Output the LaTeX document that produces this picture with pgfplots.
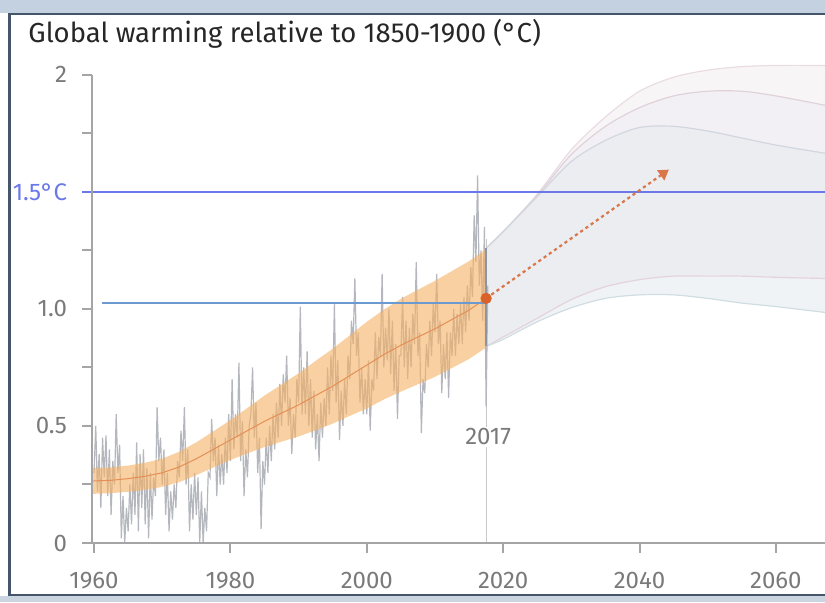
\documentclass[border=0pt]{standalone}
\usepackage{pgfplots}
\pgfplotsset{compat=1.18}
\usepgfplotslibrary{fillbetween}
\usetikzlibrary{arrows.meta}
\usepackage{fontspec}
\setmainfont{Fira Sans}
\definecolor{titlec}{HTML}{262626}
\definecolor{labc}{HTML}{7A7A7A}
\definecolor{tickc}{HTML}{A5A5A5}
\definecolor{bluel}{HTML}{6A78EA}
\definecolor{steelc}{HTML}{6A9AD0}
\definecolor{datag}{HTML}{B4B7BD}
\definecolor{orab}{HTML}{F5B163}
\definecolor{orac}{HTML}{E58F55}
\definecolor{dotc}{HTML}{D9622B}
\definecolor{arrc}{HTML}{D9764A}
\definecolor{outc}{HTML}{EADCE3}
\definecolor{midc}{HTML}{E0D2DB}
\definecolor{innc}{HTML}{D2D6DF}
\definecolor{lpc}{HTML}{E4D3DC}
\definecolor{lbc}{HTML}{D0DDE3}
\definecolor{fa}{HTML}{F8F5F7}
\definecolor{fb}{HTML}{F2F0F4}
\definecolor{fc}{HTML}{ECEDF1}
\definecolor{fd}{HTML}{F0F3F5}
\definecolor{edgec}{HTML}{8E95A2}
\definecolor{vlinec}{HTML}{C9C9C9}
\definecolor{topband}{HTML}{C3D1E1}
\definecolor{framec}{HTML}{46566A}
\definecolor{botband}{HTML}{CBD5E0}
\begin{document}
\begin{tikzpicture}
\begin{axis}[
  scale only axis, width=366.5pt, height=257.5pt,
  xmin=1959.7, xmax=2067.2, ymin=0, ymax=2.2,
  clip=false,
  axis line style={draw=none},
  xtick={1960,1980,2000,2020,2040,2060},
  xticklabels={1960,1980,2000,2020,2040,2060},
  ytick={0,0.25,0.5,0.75,1,1.25,1.5,1.75,2},
  yticklabels={0,,0.5,,1.0,,\textcolor{bluel}{1.5°C},,2},
  xtick pos=left, ytick pos=left,
  tick align=outside, major tick length=5pt,
  tick style={draw=tickc, line width=1pt},
  ticklabel style={font=\fontsize{12}{14}\selectfont, text=labc},
  xticklabel style={yshift=-6pt},
  yticklabel style={xshift=-4pt},
]
% projection envelopes
\addplot[name path=outer, draw=outc, line width=0.6pt, smooth] coordinates {
(2017.5,1.26) (2020,1.33) (2025,1.49) (2030,1.68) (2035,1.82) (2040,1.93) (2045,1.99) (2050,2.02) (2055,2.035) (2060,2.04) (2067.2,2.04)};
\addplot[name path=middle, draw=midc, line width=0.6pt, smooth] coordinates {
(2017.5,1.26) (2020,1.33) (2025,1.485) (2030,1.66) (2035,1.78) (2040,1.86) (2045,1.91) (2050,1.93) (2055,1.93) (2060,1.91) (2067.2,1.87)};
\addplot[name path=inner, draw=innc, line width=0.6pt, smooth] coordinates {
(2017.5,1.26) (2020,1.33) (2025,1.48) (2030,1.63) (2035,1.72) (2040,1.775) (2045,1.78) (2050,1.76) (2055,1.73) (2060,1.70) (2067.2,1.665)};
\addplot[name path=lowp, draw=lpc, line width=0.6pt, smooth] coordinates {
(2017.5,0.84) (2020,0.88) (2025,0.96) (2030,1.04) (2035,1.095) (2040,1.125) (2045,1.14) (2050,1.14) (2055,1.14) (2060,1.135) (2067.2,1.13)};
\addplot[name path=lowb, draw=lbc, line width=0.6pt, smooth] coordinates {
(2017.5,0.84) (2020,0.87) (2025,0.945) (2030,1.005) (2035,1.045) (2040,1.06) (2045,1.06) (2050,1.045) (2055,1.025) (2060,1.01) (2067.2,0.985)};
\addplot[fill=fa, draw=none] fill between[of=outer and middle];
\addplot[fill=fb, draw=none] fill between[of=middle and inner];
\addplot[fill=fc, draw=none] fill between[of=inner and lowp];
\addplot[fill=fd, draw=none] fill between[of=lowp and lowb];
% vertical 2017 line
\addplot[draw=vlinec, line width=0.6pt] coordinates {(2017.5,0) (2017.5,1.3)};
% observed temperature
\addplot[draw=datag, line width=0.6pt] coordinates {
(1960,0.30) (1960.25,0.50) (1960.5,0.22) (1960.75,0.38)
(1961,0.15) (1961.25,0.45) (1961.5,0.28) (1961.75,0.46)
(1962,0.20) (1962.25,0.40) (1962.5,0.12) (1962.75,0.35)
(1963,0.25) (1963.25,0.55) (1963.5,0.30) (1963.75,0.42)
(1964,0.02) (1964.25,0.20) (1964.5,0.00) (1964.75,0.15)
(1965,0.05) (1965.25,0.25) (1965.5,0.08) (1965.75,0.30)
(1966,0.12) (1966.25,0.43) (1966.5,0.05) (1966.75,0.38)
(1967,0.15) (1967.25,0.40) (1967.5,0.08) (1967.75,0.32)
(1968,0.02) (1968.25,0.30) (1968.5,0.10) (1968.75,0.28)
(1969,0.20) (1969.25,0.58) (1969.5,0.35) (1969.75,0.45)
(1970,0.25) (1970.25,0.40) (1970.5,0.12) (1970.75,0.30)
(1971,0.05) (1971.25,0.22) (1971.5,0.10) (1971.75,0.25)
(1972,0.15) (1972.25,0.35) (1972.5,0.28) (1972.75,0.48)
(1973,0.35) (1973.25,0.58) (1973.5,0.25) (1973.75,0.40)
(1974,0.05) (1974.25,0.25) (1974.5,0.10) (1974.75,0.30)
(1975,0.12) (1975.25,0.28) (1975.5,0.00) (1975.75,0.22)
(1976,0.00) (1976.25,0.15) (1976.5,0.05) (1976.75,0.30)
(1977,0.28) (1977.25,0.53) (1977.5,0.35) (1977.75,0.45)
(1978,0.20) (1978.25,0.42) (1978.5,0.25) (1978.75,0.38)
(1979,0.25) (1979.25,0.45) (1979.5,0.30) (1979.75,0.55)
(1980,0.35) (1980.25,0.70) (1980.5,0.40) (1980.75,0.55)
(1981,0.45) (1981.25,0.77) (1981.5,0.35) (1981.75,0.52)
(1982,0.20) (1982.25,0.40) (1982.5,0.28) (1982.75,0.50)
(1983,0.55) (1983.25,0.75) (1983.5,0.45) (1983.75,0.60)
(1984,0.30) (1984.25,0.45) (1984.5,0.06) (1984.75,0.35)
(1985,0.25) (1985.25,0.45) (1985.5,0.30) (1985.75,0.50)
(1986,0.35) (1986.25,0.55) (1986.5,0.40) (1986.75,0.60)
(1987,0.45) (1987.25,0.68) (1987.5,0.50) (1987.75,0.72)
(1988,0.60) (1988.25,0.80) (1988.5,0.50) (1988.75,0.62)
(1989,0.38) (1989.25,0.55) (1989.5,0.45) (1989.75,0.70)
(1990,0.60) (1990.25,1.01) (1990.5,0.55) (1990.75,0.75)
(1991,0.55) (1991.25,0.82) (1991.5,0.50) (1991.75,0.70)
(1992,0.45) (1992.25,0.65) (1992.5,0.40) (1992.75,0.55)
(1993,0.35) (1993.25,0.60) (1993.5,0.45) (1993.75,0.62)
(1994,0.50) (1994.25,0.75) (1994.5,0.55) (1994.75,0.80)
(1995,0.65) (1995.25,1.02) (1995.5,0.60) (1995.75,0.78)
(1996,0.44) (1996.25,0.65) (1996.5,0.50) (1996.75,0.70)
(1997,0.55) (1997.25,0.80) (1997.5,0.70) (1997.75,0.95)
(1998,0.85) (1998.25,1.13) (1998.5,0.80) (1998.75,0.90)
(1999,0.60) (1999.25,0.75) (1999.5,0.55) (1999.75,0.70)
(2000,0.55) (2000.25,0.78) (2000.5,0.48) (2000.75,0.70)
(2001,0.65) (2001.25,0.90) (2001.5,0.70) (2001.75,0.88)
(2002,0.80) (2002.25,1.15) (2002.5,0.75) (2002.75,0.92)
(2003,0.78) (2003.25,1.00) (2003.5,0.72) (2003.75,0.95)
(2004,0.65) (2004.25,0.85) (2004.5,0.53) (2004.75,0.80)
(2005,0.80) (2005.25,1.05) (2005.5,0.75) (2005.75,0.95)
(2006,0.70) (2006.25,0.92) (2006.5,0.75) (2006.75,0.98)
(2007,0.85) (2007.25,1.20) (2007.5,0.80) (2007.75,0.90)
(2008,0.47) (2008.25,0.70) (2008.5,0.64) (2008.75,0.85)
(2009,0.75) (2009.25,0.95) (2009.5,0.80) (2009.75,1.02)
(2010,0.90) (2010.25,1.15) (2010.5,0.85) (2010.75,0.95)
(2011,0.64) (2011.25,0.85) (2011.5,0.70) (2011.75,0.90)
(2012,0.62) (2012.25,0.90) (2012.5,0.80) (2012.75,1.00)
(2013,0.80) (2013.25,0.98) (2013.5,0.85) (2013.75,1.02)
(2014,0.85) (2014.25,1.05) (2014.5,0.90) (2014.75,1.10)
(2015,0.95) (2015.25,1.18) (2015.5,1.05) (2015.75,1.40)
(2016,1.20) (2016.25,1.57) (2016.5,1.10) (2016.75,1.25)
(2017,0.95) (2017.25,1.35) (2017.5,0.58) (2017.75,1.10)
};
% orange uncertainty band
\addplot[name path=ou, draw=none] coordinates {
(1959.8,0.32) (1962.5,0.323) (1965,0.331) (1967.5,0.343) (1970,0.36) (1972.5,0.39) (1975,0.43) (1977.5,0.477) (1980,0.525) (1982.5,0.577) (1985,0.63) (1987.5,0.677) (1990,0.725) (1992.5,0.778) (1995,0.83) (1997.5,0.887) (2000,0.945) (2002.5,0.997) (2005,1.043) (2007.5,1.082) (2010,1.12) (2012.5,1.162) (2015,1.204) (2017.5,1.255)};
\addplot[name path=ol, draw=none] coordinates {
(1959.8,0.21) (1962.5,0.213) (1965,0.219) (1967.5,0.227) (1970,0.24) (1972.5,0.26) (1975,0.29) (1977.5,0.323) (1980,0.355) (1982.5,0.383) (1985,0.41) (1987.5,0.433) (1990,0.455) (1992.5,0.482) (1995,0.51) (1997.5,0.543) (2000,0.575) (2002.5,0.613) (2005,0.647) (2007.5,0.678) (2010,0.71) (2012.5,0.748) (2015,0.786) (2017.5,0.835)};
\addplot[fill=orab, fill opacity=0.6, draw=none] fill between[of=ou and ol, on layer=main];
\addplot[draw=orac, line width=0.5pt] coordinates {
(1959.8,0.265) (1962.5,0.268) (1965,0.275) (1967.5,0.285) (1970,0.30) (1972.5,0.325) (1975,0.36) (1977.5,0.40) (1980,0.44) (1982.5,0.48) (1985,0.52) (1987.5,0.555) (1990,0.59) (1992.5,0.63) (1995,0.67) (1997.5,0.715) (2000,0.76) (2002.5,0.805) (2005,0.845) (2007.5,0.88) (2010,0.915) (2012.5,0.955) (2015,0.995) (2017.5,1.045)};
% reference lines
\addplot[draw=bluel, line width=0.8pt] coordinates {(1958.2,1.5) (2067.2,1.5)};
\addplot[draw=steelc, line width=0.6pt] coordinates {(1961.2,1.025) (2017.5,1.025)};
% band edge at 2017
\addplot[draw=edgec, line width=0.8pt] coordinates {(2017.5,0.84) (2017.5,1.26)};
% arrow and dot
\addplot[draw=arrc, line width=1.1pt, dash pattern=on 1.6pt off 1.6pt, -{Triangle[length=5pt,width=6pt]}] coordinates {(2017.5,1.045) (2044.3,1.595)};
\addplot[only marks, mark=*, mark size=2.6pt, color=dotc] coordinates {(2017.5,1.045)};
% axis lines
\draw[tickc, line width=1pt] (axis cs:1959.7,2) -- (axis cs:1959.7,0) -- (axis cs:2067.2,0);
\node[fill=white, inner sep=1pt, text=labc, font=\fontsize{12}{14}\selectfont] at (axis cs:2017.8,0.453) {2017};
\end{axis}
% frame
\fill[topband] (-46pt,265pt) rectangle (366.5pt,271.5pt);
\draw[framec, line width=1pt] (-42pt,264.5pt) -- (366.5pt,264.5pt);
\draw[framec, line width=1.5pt] (-41pt,264.5pt) -- (-41pt,-26.5pt);
\draw[framec, line width=1pt] (-42pt,-26pt) -- (366.5pt,-26pt);
\fill[botband] (-46pt,-26.5pt) rectangle (366.5pt,-29.5pt);
\node[anchor=base west, text=titlec, font=\fontsize{13.75}{16}\selectfont, inner sep=0pt] at (-32pt,250.5pt) {Global warming relative to 1850-1900 (°C)};
\pgfresetboundingbox
\path[use as bounding box] (-46pt,-29.5pt) rectangle (366.5pt,271.5pt);
\end{tikzpicture}
\end{document}
